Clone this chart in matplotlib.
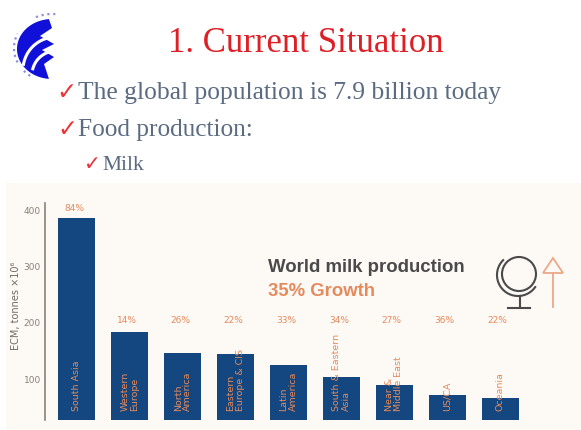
import numpy as np
import matplotlib
matplotlib.use("Agg")
import matplotlib.pyplot as plt
from matplotlib.patches import Rectangle, Circle, Polygon

W, H = 581, 430

regions = ["South Asia", "Western\nEurope", "North\nAmerica", "Eastern\nEurope & CIS", "Latin\nAmerica",
           "South & Eastern\nAsia", "Near &\nMiddle East", "US/CA", "Oceania"]
production = [387, 184, 146, 145, 125, 104, 89, 71, 66]
growth = ["84%", "14%", "26%", "22%", "33%", "34%", "27%", "36%", "22%"]
y_ticks = [100, 200, 300, 400]

bullets = ["The global population is 7.9 billion today", "Food production:", "Milk"]

BLUE = "#14477f"
ORANGE = "#e58a5c"
GREY = "#8b8079"
LOGO = "#1010d8"


def arc_points(cx, cy, rx, ry, a1, a2):
    t = np.radians(np.linspace(a1, a2, 60))
    return cx + rx * np.cos(t), cy + ry * np.sin(t)


fig = plt.figure(figsize=(W / 100, H / 100), dpi=100, facecolor="white")

# whole slide in pixel coords for the panel, logo and icons
bg = fig.add_axes([0, 0, 1, 1])
bg.set_xlim(0, W)
bg.set_ylim(H, 0)
bg.axis("off")
bg.add_patch(Rectangle((6, 183), W - 6, H - 183, color="#fdf9f5", lw=0))

# logo
ox, oy = arc_points(52, 49, 35, 30, 95, 265)
notches = [(52, 28), (40, 36), (54, 44), (42, 50), (54, 57), (44, 64)]
bg.add_patch(Polygon(list(zip(ox, oy)) + notches, color=LOGO, lw=0))
for r, cy, a1, a2 in [(33, 70, 190, 292), (24, 75, 195, 292)]:
    sx, sy = arc_points(56, cy, r, r, a1, a2)
    bg.plot(sx, sy, color="white", lw=2.2)
for a1, a2 in [(-115, -85), (155, 205), (125, 140)]:
    sx, sy = arc_points(52, 48, 38, 34, a1, a2)
    bg.plot(sx, sy, color="#8f8fe0", lw=1.6, ls=":")

# globe
INK = "#4a4a4a"
bg.add_patch(Circle((519, 274), 17, fill=False, ec=INK, lw=1.5))
gx, gy = arc_points(518, 275, 21, 21, 35, 225)
bg.plot(gx, gy, color=INK, lw=1.5)
bg.plot([520, 520], [296, 308], color=INK, lw=1.5)
bg.plot([508, 530], [308, 308], color=INK, lw=1.5)

# arrow
bg.plot([553, 553], [273, 307], color="#eaa98a", lw=1.3)
bg.add_patch(Polygon([[553, 258], [543, 273], [563, 273]], fill=False, ec="#eaa98a", lw=1.3))

# slide texts
serif = "Liberation Serif"
fig.text(306 / W, 1 - 43 / H, "1. Current Situation", family=serif, fontsize=25, color="#dd1f26",
         ha="center", va="center")
for txt, x, y, size in zip(bullets, [78, 78, 102], [93, 130, 166], [18.4, 18.2, 15.5]):
    fig.text(x / W, 1 - y / H, txt, family=serif, fontsize=size, color="#5a6b82", ha="left", va="center")
    fig.text((x - 1) / W, 1 - (y - 1) / H, "✓", family="DejaVu Sans", fontsize=size - 1, color="#e8353a",
             ha="right", va="center", fontweight="bold")

# chart
left, right, top, bottom = 45, 532, 203, 420
ax = fig.add_axes([left / W, 1 - bottom / H, (right - left) / W, (bottom - top) / H])
ax.patch.set_alpha(0)
x = np.arange(len(regions))
ax.bar(x, production, width=0.7, color=BLUE)
ax.set_xlim(-0.6, 8.6)
ax.set_ylim(27, 414)
ax.set_xticks([])
ax.set_yticks(y_ticks)
ax.tick_params(axis="y", length=0, pad=3, labelsize=6.5, labelcolor=GREY)
for s in ["top", "right", "bottom"]:
    ax.spines[s].set_visible(False)
ax.spines["left"].set_color(GREY)
ax.spines["left"].set_linewidth(1.2)
ax.set_ylabel("ECM, tonnes ×10⁶", fontsize=7, color="#6f6a66")
ax.yaxis.set_label_coords(-0.05, 0.525)

for i, name in enumerate(regions):
    ax.text(i, 43, name, rotation=90, fontsize=6.8, color=ORANGE, ha="center", va="bottom",
            linespacing=1.0, multialignment="left")
    ypos = production[i] + 10 if i == 0 else 196
    ax.text(i - 0.05, ypos, growth[i], fontsize=6.5, color=ORANGE, ha="center", va="bottom")

fig.text(268 / W, 1 - 268 / H, "World milk production", fontsize=13.4, fontweight="bold", color="#4a4a4a",
         family="Liberation Sans", va="center")
fig.text(268 / W, 1 - 292 / H, "35% Growth", fontsize=13.3, fontweight="bold", color=ORANGE,
         family="Liberation Sans", va="center")

fig.savefig("out.png", dpi=100)
